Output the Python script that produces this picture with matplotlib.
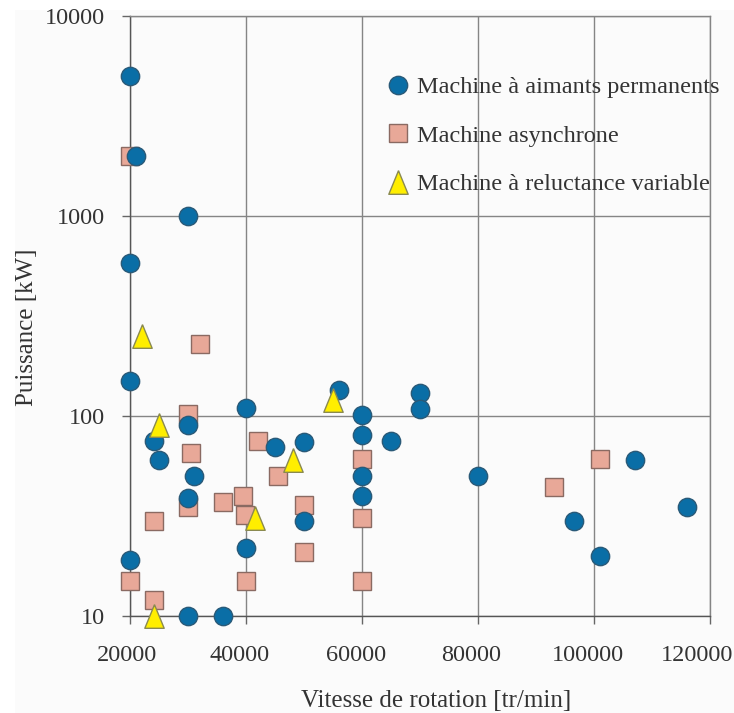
import matplotlib
matplotlib.use("Agg")
import matplotlib.pyplot as plt
from matplotlib.patches import Rectangle
from matplotlib.ticker import FixedLocator, NullLocator, FuncFormatter
from matplotlib.transforms import ScaledTranslation

plt.rcParams['font.family'] = ['Liberation Serif', 'DejaVu Serif']

# Machine à aimants permanents
pm_speed = [20000, 21000, 30000, 20000, 20000, 40000, 56000, 30000, 24000, 45000,
            50000, 25000, 31000, 30000, 50000, 40000, 20000, 30000, 36000, 70000,
            70000, 60000, 60000, 65000, 60000, 60000, 80000, 107000, 96500, 101000,
            116000]
pm_power = [5000, 2000, 1000, 580, 150, 110, 135, 90, 75, 70,
            74, 60, 50, 39, 30, 22, 19, 10, 10, 131,
            108, 101, 80, 75, 50, 40, 50, 60, 30, 20,
            35]

# Machine asynchrone
as_speed = [20000, 32000, 30000, 30500, 42000, 45500, 39500, 36000, 30000, 39800,
            50000, 24000, 50000, 40000, 20000, 24000, 60000, 60000, 60000, 101000,
            93000]
as_power = [2000, 230, 102, 65, 75, 50, 40, 37, 35, 32,
            36, 30, 21, 15, 15, 12, 61, 31, 15, 61,
            44]

# Machine à reluctance variable
rv_speed = [22000, 25000, 48000, 41500, 24000, 55000]
rv_power = [250, 90, 60, 31, 10, 120]

x_ticks = [20000, 40000, 60000, 80000, 100000, 120000]
y_ticks = [10, 100, 1000, 10000]

labels = ["Machine à aimants permanents", "Machine asynchrone",
          "Machine à reluctance variable"]

W, H = 734, 713
fig = plt.figure(figsize=(W / 100, H / 100), dpi=100)
fig.patch.set_facecolor('white')
fig.patches.append(Rectangle((15 / W, 0), 1 - 15 / W, 1 - 10 / H,
                             transform=fig.transFigure, facecolor='#fbfbfb',
                             edgecolor='none', zorder=-10))

ax = fig.add_axes([130.4 / W, 97 / H, 579.6 / W, 600 / H])
ax.set_facecolor('none')
ax.set_yscale('log')
ax.set_xlim(20000, 120000)
ax.set_ylim(10, 10000)

ax.xaxis.set_major_locator(FixedLocator(x_ticks))
ax.yaxis.set_major_locator(FixedLocator(y_ticks))
ax.yaxis.set_minor_locator(NullLocator())
ax.xaxis.set_minor_locator(NullLocator())
fmt = FuncFormatter(lambda v, p: f"{int(round(v))}")
ax.xaxis.set_major_formatter(fmt)
ax.yaxis.set_major_formatter(fmt)

ax.grid(True, which='major', color='#858585', linewidth=1.0, zorder=0)
ax.set_axisbelow(True)
for side in ['top', 'right']:
    ax.spines[side].set_color('#858585')
    ax.spines[side].set_linewidth(1.0)
for side in ['left', 'bottom']:
    ax.spines[side].set_color('#555555')
    ax.spines[side].set_linewidth(1.0)

ax.tick_params(axis='both', direction='out', length=6, width=1.0,
               color='#666666', labelsize=17.5, labelcolor='#333333')
ax.tick_params(axis='y', pad=12)
ax.tick_params(axis='x', pad=15)

tri = [(0, 1), (-0.82, -1), (0.82, -1), (0, 1)]

h_as = ax.plot(as_speed, as_power, linestyle='none', marker='s', markersize=13.5,
               markerfacecolor='#e8a898', markeredgecolor='#8a6a62',
               markeredgewidth=1.0, zorder=3, clip_on=False)[0]
h_pm = ax.plot(pm_speed, pm_power, linestyle='none', marker='o', markersize=13.2,
               markerfacecolor='#0a6ea6', markeredgecolor='#2a5a78',
               markeredgewidth=1.0, zorder=4, clip_on=False)[0]
h_rv = ax.plot(rv_speed, rv_power, linestyle='none', marker=tri, markersize=17,
               markerfacecolor='#ffee00', markeredgecolor='#8a8a50',
               markeredgewidth=1.0, zorder=5, clip_on=False)[0]

leg = ax.legend([h_pm, h_as, h_rv], labels, loc='upper left',
                bbox_to_anchor=(0.44, 0.90), frameon=False, fontsize=17.5,
                labelspacing=1.09, handlelength=1.0, handletextpad=0.3,
                borderpad=0, borderaxespad=0)
for t in leg.get_texts():
    t.set_color('#333333')

ax.set_xlabel("Vitesse de rotation [tr/min]", fontsize=18, color='#333333')
ax.xaxis.set_label_coords(0.528, -0.123)
ax.set_ylabel("Puissance [kW]", fontsize=18, color='#333333')
ax.yaxis.set_label_coords(-0.159, 0.482)

fig.canvas.draw()
xlabels = ax.xaxis.get_majorticklabels()
shifts = [-3, -7, -6, -7, -6, -12.5]
for lab, dx in zip(xlabels, shifts):
    lab.set_transform(lab.get_transform() +
                      ScaledTranslation(dx / 100, 0, fig.dpi_scale_trans))

fig.savefig("out.png", dpi=100)
